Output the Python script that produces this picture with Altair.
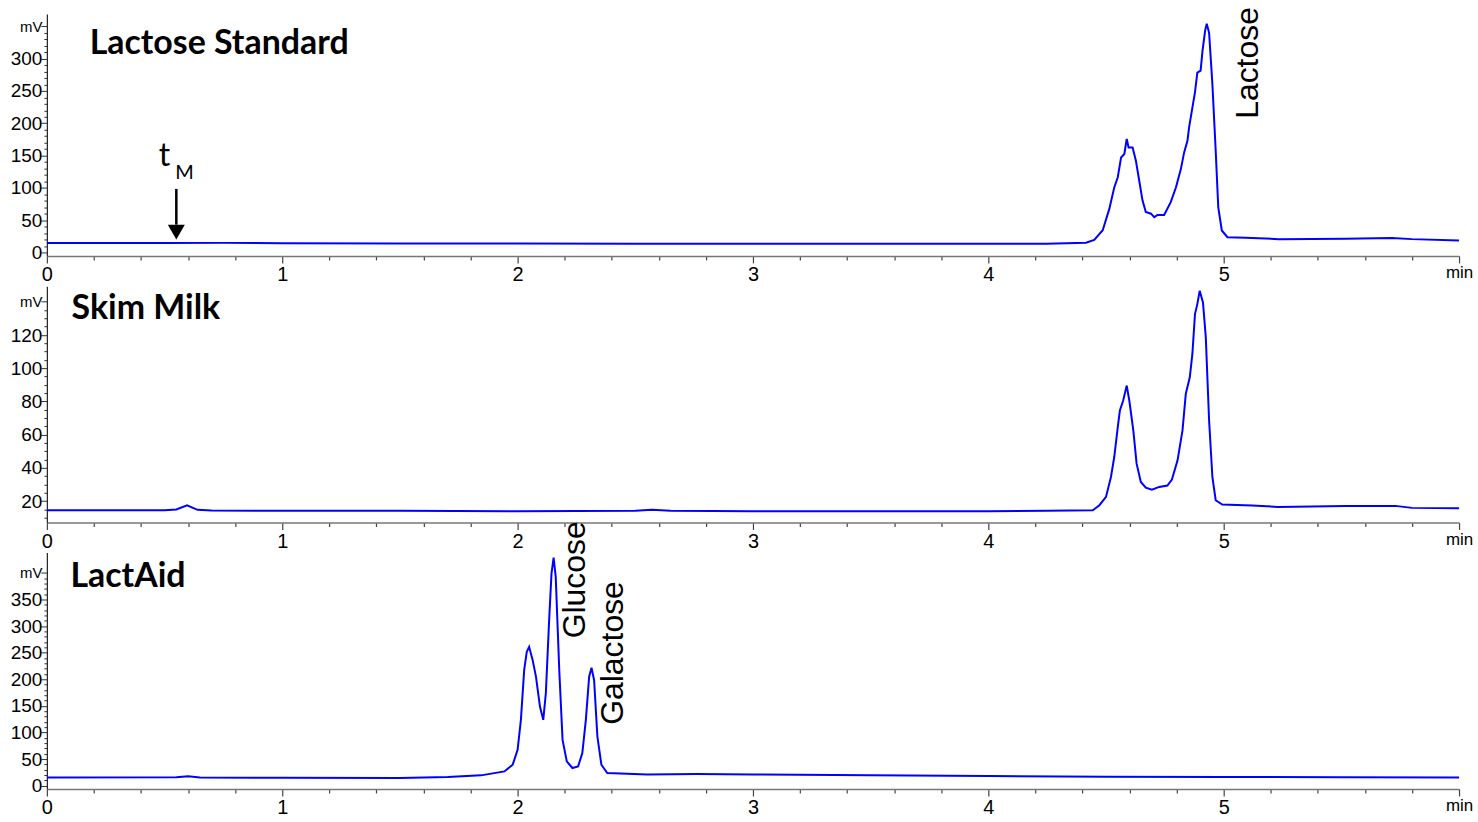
import altair as alt
import pandas as pd

# ---------------- data ----------------
# Panel 1: Lactose Standard
t1 = [0.0, 0.5, 0.75, 1.0, 1.5, 2.0, 2.5, 3.0, 3.5, 4.0,
      4.246, 4.415, 4.45, 4.486, 4.514, 4.535, 4.55, 4.564, 4.578, 4.588,
      4.596, 4.613, 4.627, 4.641, 4.655, 4.669, 4.691, 4.705, 4.719, 4.747,
      4.775, 4.797, 4.818, 4.832, 4.846, 4.853, 4.867, 4.878, 4.888, 4.902,
      4.910, 4.921, 4.928, 4.938, 4.952, 4.966, 4.977, 4.992, 5.016, 5.093,
      5.234, 5.517, 5.715, 5.80, 6.0]
v1 = [14.5, 14.5, 14.8, 14.2, 14.0, 13.8, 13.6, 13.4, 13.4, 13.3,
      13.4, 14.9, 19.4, 34.3, 67.4, 100.5, 116.4, 147, 152.4, 175.7,
      162.6, 162.6, 142, 111.4, 80.7, 62.5, 60, 54.6, 58, 58,
      77.8, 100.5, 129, 154.9, 172.8, 193.5, 224.2, 247.9, 278.5, 281.5,
      312, 343, 354, 340, 260.6, 157.8, 69.9, 34, 23.6, 22.6,
      20.6, 21, 22.2, 20.6, 18.5]

# Panel 2: Skim Milk
t2 = [0.0, 0.5, 0.55, 0.596, 0.64, 0.7, 1.0, 1.5, 2.0, 2.5,
      2.57, 2.65, 3.0, 3.5, 4.0, 4.246, 4.444, 4.472, 4.5, 4.521,
      4.535, 4.55, 4.559, 4.573, 4.588, 4.599, 4.616, 4.630, 4.648, 4.669,
      4.695, 4.726, 4.761, 4.780, 4.804, 4.825, 4.839, 4.856, 4.867, 4.878,
      4.888, 4.898, 4.912, 4.924, 4.938, 4.952, 4.966, 4.994, 5.12, 5.23,
      5.517, 5.73, 5.8, 6.0]
v2 = [14.6, 14.6, 15.0, 17.6, 14.8, 14.4, 14.2, 14.2, 14.0, 14.2,
      14.9, 14.2, 14.0, 14.0, 14.0, 14.2, 14.6, 17.6, 22.6, 34.6,
      46.6, 64.6, 74.6, 80.6, 89.6, 80.6, 62.6, 42.6, 31.6, 28.2,
      27.0, 28.6, 29.4, 33.0, 44.6, 62.6, 84.6, 94.6, 108.6, 132.6,
      138.6, 146.6, 139.6, 118.6, 68.6, 34.6, 20.6, 18.0, 17.4, 16.6,
      17.2, 17.2, 16.0, 15.8]

# Panel 3: LactAid
t3 = [0.0, 0.55, 0.6, 0.65, 1.0, 1.5, 1.703, 1.845, 1.944, 1.979,
      2.0, 2.014, 2.028, 2.039, 2.049, 2.064, 2.078, 2.095, 2.109, 2.12,
      2.134, 2.144, 2.153, 2.162, 2.177, 2.191, 2.209, 2.233, 2.257, 2.275,
      2.29, 2.304, 2.314, 2.325, 2.339, 2.356, 2.381, 2.551, 2.763, 3.0,
      3.5, 4.0, 4.5, 5.0, 5.5, 6.0]
v3 = [15.6, 15.8, 17.5, 15.6, 14.8, 14.5, 16.3, 19.4, 26.8, 39.4,
      67.5, 123.7, 217.5, 251.8, 261, 236, 205, 148.7, 123.7, 173.8,
      311, 398.7, 428.7, 392.4, 217.5, 86.2, 45.6, 33.2, 36.2, 61.3,
      123.7, 205, 221.8, 198.7, 92.4, 39.4, 23.8, 21.2, 21.9, 21.0,
      19.5, 18.0, 17.0, 16.5, 16.0, 15.6]

# panel titles (text, x in min, y in mV)
titles = ["Lactose Standard", "Skim Milk", "LactAid"]
title_t = [0.182, 0.105, 0.10]
title_v = [306.6, 129.6, 373.6]

# rotated peak labels
peak1_names = ["Lactose"]
peak1_t = [5.144]
peak1_v = [206.8]
peak3_names = ["Glucose", "Galactose"]
peak3_t = [2.288, 2.449]
peak3_v = [277.0, 114.4]

# t_M marker
tm_text = ["t", "M"]
tm_t = [0.50, 0.585]
tm_v = [134.0, 113.7]
arrow_t = [0.55]
arrow_top = [98.3]
arrow_bot = [43.0]
arrow_head = [31.6]

# axes
x_ticks = [round(i * 0.2, 1) for i in range(31)]
y1_ticks = list(range(0, 351, 10))
y2_ticks = list(range(10, 141, 5))
y3_ticks = list(range(0, 401, 10))

W = 1416
BLUE = "#0000FF"


def x_enc():
    return alt.X(
        "t:Q",
        scale=alt.Scale(domain=[0, 6], nice=False, zero=False),
        axis=alt.Axis(
            values=x_ticks, title=None, grid=False,
            labelExpr="datum.value === 6 ? 'min' : (datum.value % 1 === 0 ? format(datum.value, 'd') : '')",
            tickSize={"condition": {"test": "datum.value % 1 === 0", "value": 7}, "value": 4},
            labelFontSize={"condition": {"test": "datum.value === 6", "value": 17}, "value": 20},
            labelFont="Liberation Sans", labelColor="black", labelPadding=2,
            labelFlush=False, labelOverlap=False,
            domainColor="#777777", domainWidth=1.5, tickColor="#444444", tickWidth=1.2,
        ),
    )


def y_enc(domain, ticks, major, top):
    return alt.Y(
        "v:Q",
        scale=alt.Scale(domain=domain, nice=False, zero=False),
        axis=alt.Axis(
            values=ticks, title=None, grid=False,
            labelExpr=f"datum.value === {top} ? 'mV' : (datum.value % {major} === 0 ? format(datum.value, 'd') : '')",
            tickSize={"condition": {"test": f"datum.value % {major} === 0", "value": 6}, "value": 3},
            labelFontSize={"condition": {"test": f"datum.value === {top}", "value": 15}, "value": 19},
            labelFont="Liberation Sans", labelColor="black", labelPadding=-1,
            labelOverlap=False, labelFlush=False,
            domainColor="#222222", domainWidth=1.2, tickColor="#333333", tickWidth=1,
        ),
    )


def panel(t, v, title_i, ydom, yticks, major, top, height, extras):
    X = x_enc()
    Y = y_enc(ydom, yticks, major, top)
    line = alt.Chart(pd.DataFrame({"t": t, "v": v})).mark_line(
        color=BLUE, strokeWidth=2
    ).encode(x=X, y=Y)
    ttl = alt.Chart(pd.DataFrame({
        "t": [title_t[title_i]], "v": [title_v[title_i]], "label": [titles[title_i]]
    })).mark_text(
        font="Lato", fontSize=34, fontWeight="bold", align="left",
        baseline="alphabetic", color="black"
    ).encode(x=X, y=Y, text="label:N")
    layers = [line, ttl] + [e(X, Y) for e in extras]
    return alt.layer(*layers).properties(width=W, height=height)


def peak_labels(names, tt, vv):
    def f(X, Y):
        return alt.Chart(pd.DataFrame({"t": tt, "v": vv, "label": names})).mark_text(
            font="Liberation Sans", fontSize=32, angle=270, align="left",
            baseline="alphabetic", color="black"
        ).encode(x=X, y=Y, text="label:N")
    return f


def tm_big(X, Y):
    return alt.Chart(pd.DataFrame({"t": tm_t[:1], "v": tm_v[:1], "label": tm_text[:1]})).mark_text(
        font="Lato", fontSize=32, align="center", baseline="alphabetic", color="black"
    ).encode(x=X, y=Y, text="label:N")


def tm_small(X, Y):
    return alt.Chart(pd.DataFrame({"t": tm_t[1:], "v": tm_v[1:], "label": tm_text[1:]})).mark_text(
        font="Lato", fontSize=20, align="center", baseline="alphabetic", color="black"
    ).encode(x=X, y=Y, text="label:N")


def arrow_shaft(X, Y):
    return alt.Chart(pd.DataFrame({"t": arrow_t, "v": arrow_top, "v2": arrow_bot})).mark_rule(
        color="black", strokeWidth=2.5
    ).encode(x=X, y=Y, y2="v2:Q")


def arrow_headf(X, Y):
    return alt.Chart(pd.DataFrame({"t": arrow_t, "v": arrow_head})).mark_point(
        shape="triangle-down", filled=True, size=290, color="black", opacity=1
    ).encode(x=X, y=Y)


p1 = panel(t1, v1, 0, [-5.4, 369], y1_ticks, 50, 350, 242.5,
           [peak_labels(peak1_names, peak1_t, peak1_v), tm_big, tm_small, arrow_shaft, arrow_headf])
p2 = panel(t2, v2, 1, [7.2, 149.3], y2_ticks, 20, 140, 236.8, [])
p3 = panel(t3, v3, 2, [-6.2, 438.1], y3_ticks, 50, 400, 237.0,
           [peak_labels(peak3_names, peak3_t, peak3_v)])

chart = alt.vconcat(p1, p2, p3, spacing=30, bounds="flush").properties(
    padding={"left": 10, "top": 5, "right": 5, "bottom": 5},
    background="white",
).configure_view(strokeWidth=0, stroke="transparent")

chart.save("out.html", embed_options={"renderer": "svg", "actions": False})
